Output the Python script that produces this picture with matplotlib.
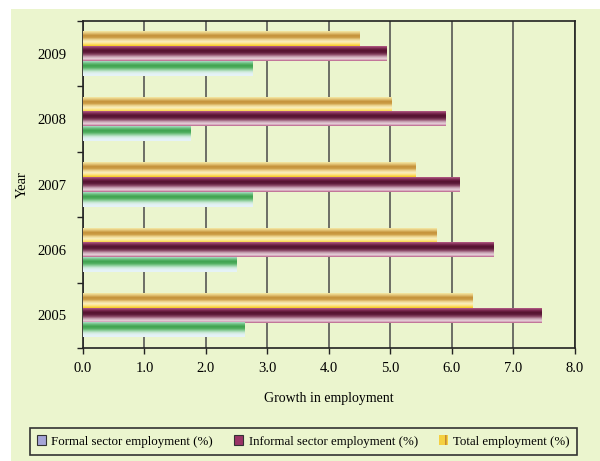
import matplotlib.pyplot as plt
import numpy as np
from matplotlib.colors import LinearSegmentedColormap
from matplotlib.patches import Patch, Rectangle

plt.rcParams['font.family'] = ['Liberation Serif', 'DejaVu Serif']

BG = "#EBF5CE"
GRID = "#4a4a4a"

years = ["2005", "2006", "2007", "2008", "2009"]
formal = [2.62, 2.49, 2.75, 1.74, 2.76]
informal = [7.45, 6.68, 6.13, 5.89, 4.93]
total = [6.34, 5.74, 5.41, 5.02, 4.49]

# stripe profiles, top edge of the bar first
STRIPES = {
    "total": ["#F4E9A6", "#E2C273", "#C4913A", "#CC9C45", "#EDD590",
              "#FAF0C0", "#FFE27A", "#F3C81E"],
    "informal": ["#B45C86", "#7C2A52", "#55122F", "#5E1B3A", "#8C4A68",
                 "#C9A3B4", "#E9D3DC", "#B9608A"],
    "formal": ["#A8DCC6", "#68BE7A", "#3FA24F", "#4FAE5E", "#8ED09C",
               "#CFEADB", "#E3F2F6", "#E6F3F8"],
}

fig = plt.figure(figsize=(6.0, 4.61), dpi=100, facecolor="white")
fig.patches.append(Rectangle((11 / 600, 0), 1, 1 - 9 / 461, transform=fig.transFigure,
                             facecolor=BG, edgecolor="none", zorder=-10))
ax = fig.add_axes([0.1383, 0.2451, 0.82, 0.7093])
ax.set_facecolor(BG)

y = np.arange(len(years))
h = 0.225
series = [("total", total, h), ("informal", informal, 0.0), ("formal", formal, -h)]
for key, vals, off in series:
    bars = ax.barh(y + off, vals, height=h, color="none", edgecolor="none", zorder=3)
    cmap = LinearSegmentedColormap.from_list(key, STRIPES[key][::-1])
    grad = np.linspace(0, 1, 64).reshape(-1, 1)
    for b in bars:
        x0, y0 = b.get_x(), b.get_y()
        ax.imshow(grad, cmap=cmap, aspect="auto", origin="lower",
                  extent=(x0, x0 + b.get_width(), y0, y0 + b.get_height()),
                  interpolation="bilinear", zorder=3)

ax.set_xlim(0, 8)
ax.set_ylim(-0.5, len(years) - 0.5)
ax.set_xticks(np.arange(0, 9, 1))
ax.set_xticklabels([f"{v:.1f}" for v in range(9)], fontsize=10.5)
ax.set_yticks(y)
ax.set_yticklabels(years, fontsize=10.5)
ax.set_yticks(np.arange(-0.5, len(years), 1), minor=True)
ax.tick_params(axis="y", which="major", length=0, pad=12)
ax.tick_params(axis="y", which="minor", length=4, width=1, color="#222")
ax.tick_params(axis="x", length=4, width=1, color="#222", pad=6)
ax.xaxis.grid(True, color=GRID, linewidth=1.1, zorder=0)
ax.set_axisbelow(True)
for s in ax.spines.values():
    s.set_color("#222")
    s.set_linewidth(1.2)

ax.set_xlabel("Growth in employment", fontsize=10, labelpad=12)
ax.set_ylabel("Year", fontsize=10.5, labelpad=6)

handles = [
    Patch(facecolor="#A5A5D8", edgecolor="#333", linewidth=0.8, label="Formal sector employment (%)"),
    Patch(facecolor="#993366", edgecolor="#333", linewidth=0.8, label="Informal sector employment (%)"),
    Patch(facecolor="#F5D040", edgecolor="#C08030", hatch="||", linewidth=0, label="Total employment (%)"),
]
leg = fig.legend(handles=handles, loc="center left", ncol=3,
                 bbox_to_anchor=(0.05, 0.0423), fontsize=9.3,
                 frameon=True, fancybox=False, facecolor=BG, edgecolor="#333",
                 handlelength=0.7, handleheight=0.7, handletextpad=0.4,
                 columnspacing=1.65, borderaxespad=0, borderpad=0.55,
                 framealpha=1)
leg.get_frame().set_linewidth(1.2)

fig.savefig("out.png", dpi=100, facecolor="white")
